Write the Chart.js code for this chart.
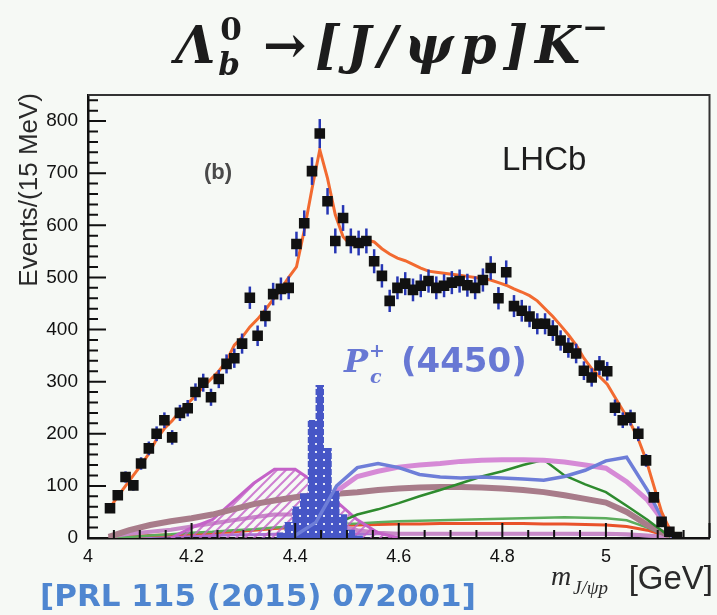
<!DOCTYPE html>
<html>
<head>
<meta charset="utf-8">
<script src="https://cdn.jsdelivr.net/npm/chart.js@4.4.1/dist/chart.umd.min.js"></script>
<style>
  html, body { margin: 0; padding: 0; background: #f6f9f5; }
  #wrap { width: 717px; height: 615px; }
</style>
</head>
<body>
<div id="wrap"><canvas id="chart" width="717" height="615"></canvas></div>
<script>
/* global Chart */

// ── Données ───────────────────────────────────────────────────────────────────
// Histogramme m(J/psi p), bins de 15 MeV à partir du seuil
const binStart = 4.035;
const binWidth = 0.015;

const dataEvents = [
  57, 82, 117, 101, 143, 172, 200, 226, 193, 240,
  249, 280, 298, 270, 305, 334, 345, 373, 461, 388,
  426, 468, 478, 480, 564, 604, 704, 776, 646, 570,
  614, 570, 566, 570, 531, 503, 455, 480, 488, 476,
  484, 493, 480, 484, 490, 493, 485, 480, 495, 518,
  460, 510, 445, 436, 425, 411, 411, 398, 379, 365,
  354, 321, 308, 331, 320, 250, 226, 231, 200, 149,
  78, 31, 12, 2,
];

const fitTotal = [
  58, 80, 100, 120, 140, 162, 190, 210, 225, 243,
  258, 273, 290, 305, 320, 340, 370, 385, 405, 420,
  438, 458, 478, 500, 520, 590, 670, 745, 690, 620,
  578, 562, 565, 572, 568, 555, 545, 537, 532, 525,
  518, 512, 510, 508, 506, 504, 502, 500, 498, 495,
  490, 485, 478, 472, 465, 455, 440, 425, 408, 390,
  370, 345, 325, 310, 295, 270, 245, 220, 190, 150,
  100, 50, 18, 3,
];

// P_c(4450) étroit, mêmes bins que les données (indices 20..33)
const narrowFirstBin = 20;
const narrowPc = [0, 0, 10, 30, 60, 85, 226, 293, 172, 90, 45, 15, 4, 0];

// Composantes lisses, échantillonnées tous les 40 MeV
const compMass = [
  4.04, 4.08, 4.12, 4.16, 4.20, 4.24, 4.28, 4.32, 4.36, 4.40,
  4.44, 4.48, 4.52, 4.56, 4.60, 4.64, 4.68, 4.72, 4.76, 4.80,
  4.84, 4.88, 4.92, 4.96, 5.00, 5.04, 5.08, 5.12, 5.13,
];
const broadPc = [
  null, null, null, 0, 20, 35, 70, 105, 132, 132,
  105, 70, 35, 10, 0, null, null, null, null, null,
  null, null, null, null, null, null, null, null, null,
];
const pinkTop = [
  null, null, null, null, null, null, null, null, null, 10,
  40, 90, 118, 128, 136, 140, 143, 147, 149, 150,
  150, 149, 146, 140, 134, 108, 73, 20, 0,
];
const blueComp = [
  null, null, null, null, null, null, null, null, null, 5,
  30, 100, 135, 143, 135, 122, 117, 115, 117, 115,
  113, 111, 118, 130, 148, 155, 92, 15, 0,
];
const greenUpper = [
  null, null, null, null, null, null, null, null, null, null,
  10, 28, 45, 55, 67, 80, 92, 105, 118, 128,
  140, 150, 120, 103, 88, 62, 35, 5, 0,
];
const brownComp = [
  2, 15, 25, 32, 38, 45, 55, 65, 72, 78,
  82, 85, 88, 92, 95, 97, 98, 98, 97, 95,
  92, 88, 82, 75, 68, 50, 25, 5, 0,
];
const pinkLow = [
  3, 8, 12, 16, 22, 28, 34, 40, 45, 45,
  38, 25, 15, 10, 8, 8, 8, 8, 8, 8,
  8, 8, 8, 8, 8, 7, 5, 2, 0,
];
const greenLower = [
  0, 2, 5, 7, 10, 12, 15, 17, 20, 22,
  25, 27, 28, 30, 32, 33, 34, 35, 36, 37,
  38, 39, 40, 39, 38, 34, 20, 3, 0,
];
const redComp = [
  2, 3, 5, 6, 8, 10, 12, 15, 18, 20,
  22, 24, 25, 26, 27, 27, 28, 28, 28, 28,
  28, 27, 27, 26, 25, 22, 15, 3, 0,
];
const purpleLow = [
  1, 2, 3, 4, 5, 5, 6, 6, 7, 7,
  7, 8, 8, 8, 8, 8, 8, 8, 8, 8,
  8, 8, 8, 7, 7, 6, 4, 1, 0,
];

const xMin = 4.0, xMax = 5.2;
const yMin = 0, yMax = 850;

// ── Utilitaires ──────────────────────────────────────────────────────────────
const binCenter = i => binStart + binWidth * (i + 0.5);
const toPoints = (xs, ys) => xs.map((x, i) => ({ x, y: ys[i] }));

function hatchPattern(color) {
  const c = document.createElement('canvas');
  c.width = 9; c.height = 9;
  const g = c.getContext('2d');
  g.strokeStyle = color;
  g.lineWidth = 2;
  g.beginPath();
  g.moveTo(0, 9); g.lineTo(9, 0);
  g.moveTo(-2, 2); g.lineTo(2, -2);
  g.moveTo(7, 11); g.lineTo(11, 7);
  g.stroke();
  return g.createPattern(c, 'repeat');
}

function dotPattern(color) {
  const c = document.createElement('canvas');
  c.width = 8; c.height = 8;
  const g = c.getContext('2d');
  g.fillStyle = color;
  g.fillRect(0, 0, 8, 8);
  g.fillStyle = 'rgba(255,255,255,0.85)';
  g.fillRect(3, 3, 2, 2);
  return g.createPattern(c, 'repeat');
}

const SANS = '"Liberation Sans", Arial, sans-serif';

// ── Barres d'erreur + décor (cadre, ticks internes, textes) ──────────────────
const errorBars = {
  id: 'errorBars',
  beforeDatasetDraw(chart, args) {
    if (chart.data.datasets[args.index].label !== 'Data') return;
    const { ctx } = chart;
    const y = chart.scales.y;
    ctx.save();
    ctx.strokeStyle = '#2636b4';
    ctx.lineWidth = 2.5;
    args.meta.data.forEach((pt, i) => {
      const v = dataEvents[i];
      const e = Math.sqrt(v);
      ctx.beginPath();
      ctx.moveTo(pt.x, y.getPixelForValue(Math.max(0, v - e)));
      ctx.lineTo(pt.x, y.getPixelForValue(v + e));
      ctx.stroke();
    });
    ctx.restore();
  },
};

const decor = {
  id: 'decor',
  afterDraw(chart) {
    const { ctx, chartArea: ca } = chart;
    const xs = chart.scales.x, ys = chart.scales.y;
    ctx.save();

    // cadre haut / droite
    ctx.strokeStyle = '#333';
    ctx.lineWidth = 2;
    ctx.beginPath();
    ctx.moveTo(ca.left, ca.top);
    ctx.lineTo(ca.right, ca.top);
    ctx.lineTo(ca.right, ca.bottom);
    ctx.stroke();

    // ticks internes
    ctx.strokeStyle = '#111';
    ctx.lineWidth = 2;
    ctx.beginPath();
    for (let v = 0; v <= 840; v += 20) {
      const py = ys.getPixelForValue(v);
      ctx.moveTo(ca.left, py);
      ctx.lineTo(ca.left + (v % 100 === 0 ? 18 : 10), py);
    }
    for (let i = 0; i <= 24; i++) {
      const px = xs.getPixelForValue(4 + 0.05 * i);
      ctx.moveTo(px, ca.bottom);
      ctx.lineTo(px, ca.bottom - (i % 4 === 0 ? 15 : 8));
    }
    ctx.stroke();

    ctx.textAlign = 'left';
    ctx.textBaseline = 'alphabetic';

    // titre
    ctx.fillStyle = '#1c1c1c';
    let x = 175;
    ctx.font = 'bold italic 52px "DejaVu Serif"';
    ctx.fillText('Λ', x, 63);
    x += ctx.measureText('Λ').width + 3;
    ctx.font = 'bold 31px "DejaVu Serif"';
    ctx.fillText('0', x + 2, 40);
    ctx.font = 'bold italic 31px "DejaVu Serif"';
    ctx.fillText('b', x, 75);
    ctx.font = 'bold 52px "DejaVu Serif"';
    ctx.fillText('→', 263, 63);
    ctx.font = 'bold italic 52px "DejaVu Serif"';
    ctx.letterSpacing = '7px';
    ctx.fillText('[J/ψp]K', 315, 63);
    x = 315 + ctx.measureText('[J/ψp]K').width - 5;
    ctx.letterSpacing = '0px';
    ctx.font = 'bold 31px "DejaVu Serif"';
    ctx.fillText('−', x, 38);

    // titre axe y
    ctx.save();
    ctx.translate(30, 93);
    ctx.rotate(-Math.PI / 2);
    ctx.textAlign = 'right';
    ctx.textBaseline = 'middle';
    ctx.fillStyle = '#2a2a2a';
    ctx.font = '26px ' + SANS;
    ctx.fillText('Events/(15 MeV)', 0, 0);
    ctx.restore();

    // titre axe x
    ctx.fillStyle = '#2a2a2a';
    ctx.font = 'italic 28px "Liberation Serif"';
    ctx.fillText('m', 551, 585);
    ctx.font = 'italic 19px "Liberation Serif"';
    ctx.fillText('J/ψp', 573, 594);
    ctx.textAlign = 'right';
    ctx.font = '33px ' + SANS;
    ctx.fillText('[GeV]', 713, 589);
    ctx.textAlign = 'left';

    // (b) et LHCb
    ctx.fillStyle = '#4a4a4a';
    ctx.font = 'bold 22px ' + SANS;
    ctx.fillText('(b)', 204, 179);
    ctx.fillStyle = '#1e1e1e';
    ctx.font = '33px ' + SANS;
    ctx.fillText('LHCb', 502, 170);

    // étiquette P_c
    ctx.fillStyle = '#6878d4';
    ctx.font = 'bold italic 32px "DejaVu Serif"';
    ctx.fillText('P', 344, 372);
    ctx.font = 'bold italic 19px "DejaVu Serif"';
    ctx.fillText('c', 370, 383);
    ctx.fillText('+', 369, 357);
    ctx.font = 'bold 34px "DejaVu Sans"';
    ctx.fillText('(4450)', 401, 372);

    // référence
    ctx.fillStyle = '#4f86d0';
    ctx.font = 'bold 31px "DejaVu Sans"';
    ctx.fillText('[PRL 115 (2015) 072001]', 40, 606);

    ctx.restore();
  },
};

// ── Graphique ────────────────────────────────────────────────────────────────
const line = (label, ys, color, width, order, extra = {}) => ({
  type: 'line',
  label,
  data: toPoints(compMass, ys),
  borderColor: color,
  borderWidth: width,
  pointRadius: 0,
  tension: 0,
  fill: false,
  order,
  ...extra,
});

new Chart(document.getElementById('chart'), {
  type: 'line',
  data: {
    datasets: [
      {
        type: 'line',
        label: 'Data',
        data: dataEvents.map((v, i) => ({ x: binCenter(i), y: v })),
        showLine: false,
        pointStyle: 'rect',
        pointRadius: 7.5,
        pointBackgroundColor: '#111',
        pointBorderWidth: 0,
        order: 0,
      },
      {
        type: 'line',
        label: 'Fit',
        data: fitTotal.map((v, i) => ({ x: binCenter(i), y: v })),
        borderColor: '#f26a30',
        borderWidth: 3,
        pointRadius: 0,
        tension: 0,
        order: 1,
      },
      line('pinkTop', pinkTop, '#d68ad6', 5, 3),
      line('blue', blueComp, '#6e7ed8', 3.5, 2),
      line('green', greenUpper, '#2e8b2e', 2.5, 4),
      line('brown', brownComp, '#a87c8a', 6, 5),
      line('broadPc', broadPc, '#c462c8', 3, 6, {
        fill: 'origin',
        backgroundColor: hatchPattern('rgba(196,98,200,0.8)'),
      }),
      line('pinkLow', pinkLow, '#c88ac8', 4, 7),
      line('greenLow', greenLower, '#5cad5c', 2.5, 8),
      line('red', redComp, '#e9522a', 3, 9),
      line('purple', purpleLow, '#a874d4', 3, 10),
      {
        type: 'bar',
        label: 'narrowPc',
        data: narrowPc.map((v, i) => ({ x: binCenter(narrowFirstBin + i), y: v })),
        backgroundColor: dotPattern('#4656c6'),
        borderWidth: 0,
        barPercentage: 1,
        categoryPercentage: 1,
        order: 2.5,
      },
    ],
  },
  options: {
    responsive: false,
    animation: false,
    events: [],
    layout: { padding: { top: 95, right: 5, bottom: 0, left: 0 } },
    plugins: { legend: { display: false }, tooltip: { enabled: false } },
    scales: {
      x: {
        type: 'linear',
        min: xMin,
        max: xMax,
        offset: false,
        afterFit: s => { s.height = 77; },
        grid: { display: false, offset: false },
        border: { display: true, color: '#111', width: 2.5 },
        ticks: {
          stepSize: 0.2,
          includeBounds: false,
          autoSkip: false,
          maxRotation: 0,
          padding: 0,
          color: '#111',
          font: { family: SANS, size: 18 },
          callback: v => (v > 5.1 ? '' : String(+v.toFixed(1))),
        },
      },
      y: {
        type: 'linear',
        min: yMin,
        max: yMax,
        afterFit: s => { s.width = 88; },
        grid: { display: false },
        border: { display: true, color: '#111', width: 2.5 },
        ticks: {
          stepSize: 100,
          includeBounds: false,
          autoSkip: false,
          padding: 2,
          color: '#111',
          font: { family: SANS, size: 19 },
        },
      },
    },
  },
  plugins: [errorBars, decor],
});
</script>
</body>
</html>
